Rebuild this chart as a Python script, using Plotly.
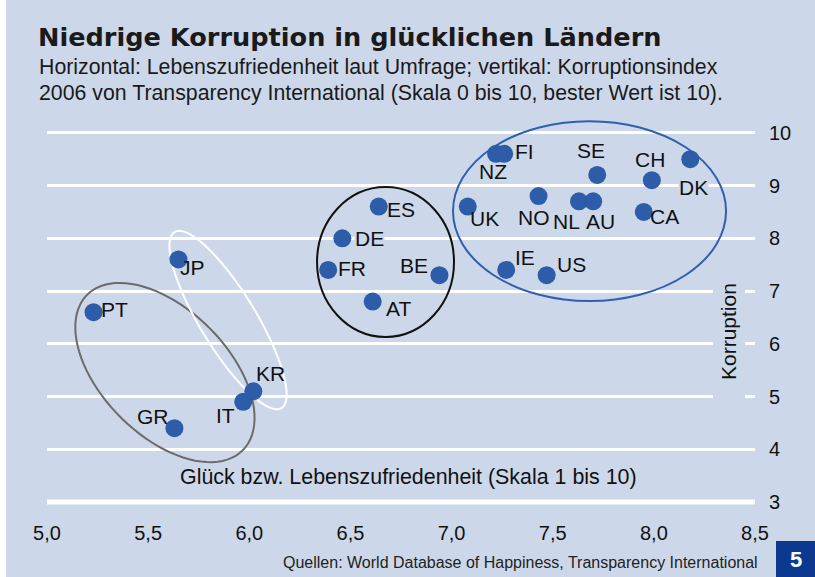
import numpy as np
import plotly.graph_objects as go

# Werte
countries = ['PT', 'JP', 'GR', 'IT', 'KR', 'ES', 'DE', 'FR', 'BE', 'AT',
             'UK', 'NZ', 'FI', 'NO', 'NL', 'AU', 'SE', 'CH', 'CA', 'DK', 'IE', 'US']
happiness = [5.23, 5.65, 5.63, 5.97, 6.02, 6.64, 6.46, 6.39, 6.94, 6.61,
             7.08, 7.22, 7.26, 7.43, 7.63, 7.70, 7.72, 7.99, 7.95, 8.18, 7.27, 7.47]
corruption = [6.6, 7.6, 4.4, 4.9, 5.1, 8.6, 8.0, 7.4, 7.3, 6.8,
              8.6, 9.6, 9.6, 8.8, 8.7, 8.7, 9.2, 9.1, 8.5, 9.5, 7.4, 7.3]

x_ticks = [5.0, 5.5, 6.0, 6.5, 7.0, 7.5, 8.0, 8.5]
x_ticktext = ['5,0', '5,5', '6,0', '6,5', '7,0', '7,5', '8,0', '8,5']
y_ticks = [3, 4, 5, 6, 7, 8, 9, 10]

title = 'Niedrige Korruption in glücklichen Ländern'
subtitle1 = 'Horizontal: Lebenszufriedenheit laut Umfrage; vertikal: Korruptionsindex'
subtitle2 = '2006 von Transparency International (Skala 0 bis 10, bester Wert ist 10).'
x_title = 'Glück bzw. Lebenszufriedenheit (Skala 1 bis 10)'
y_title = 'Korruption'
source = 'Quellen: World Database of Happiness, Transparency International'

# label offsets in pixels (dx right, dy down)
LABEL_OFFSETS = {
    'PT': (21, -3), 'JP': (14, 8), 'GR': (-21, -12), 'IT': (-18, 14), 'KR': (17, -18),
    'ES': (22, 3), 'DE': (27, 0), 'FR': (24, -1), 'BE': (-25, -10), 'AT': (26, 7),
    'UK': (17, 12), 'NZ': (-3, 18), 'FI': (20, -2), 'NO': (-5, 21), 'NL': (-13, 20),
    'AU': (7, 20), 'SE': (-6, -24), 'CH': (-2, -21), 'CA': (21, 5), 'DK': (3, 28),
    'IE': (19, -12), 'US': (25, -11),
}
LABEL_BG = {'DE', 'DK'}

BG = '#ccd8ea'
DOT = '#2d5ca8'
W, H = 815, 577
ML, MR, MT, MB = 47, 60, 109, 67
X_RANGE = [5.0, 8.5]
Y_RANGE = [2.85, 10.45]
PW, PH = W - ML - MR, H - MT - MB
SX = PW / (X_RANGE[1] - X_RANGE[0])
SY = PH / (Y_RANGE[1] - Y_RANGE[0])
FONT = 'Liberation Sans, Arial, sans-serif'


def fx(px):
    return (px - ML) / PW


def fy(py):
    return (H - MB - py) / PH


def ellipse_path(cx, cy, a, b, angle):
    # a, b in pixels, angle in screen degrees (clockwise)
    t = np.linspace(0, 2 * np.pi, 90)
    th = np.radians(angle)
    xs = cx + (a * np.cos(t) * np.cos(th) - b * np.sin(t) * np.sin(th)) / SX
    ys = cy - (a * np.cos(t) * np.sin(th) + b * np.sin(t) * np.cos(th)) / SY
    pts = ['%.4f,%.4f' % (x, y) for x, y in zip(xs, ys)]
    return 'M' + ' L'.join(pts) + ' Z'


fig = go.Figure()
fig.add_trace(go.Scatter(
    x=happiness, y=corruption, mode='markers',
    marker=dict(size=18, color=DOT, line=dict(width=0)),
    text=countries, hoverinfo='text', showlegend=False,
))

shapes = [
    # thicker base line at 3
    dict(type='line', xref='x', yref='y', x0=X_RANGE[0], x1=X_RANGE[1], y0=3, y1=3,
         line=dict(color='white', width=5), layer='between'),
    dict(type='path', xref='x', yref='y', path=ellipse_path(5.583, 5.455, 110, 63, 45),
         line=dict(color='#6b6b6b', width=2), layer='between'),
    dict(type='path', xref='x', yref='y', path=ellipse_path(5.895, 6.45, 103, 28, 58.7),
         line=dict(color='white', width=2), layer='between'),
    dict(type='circle', xref='x', yref='y', x0=6.335, x1=7.012, y0=6.13, y1=8.97,
         line=dict(color='#111111', width=2), layer='between'),
    dict(type='circle', xref='x', yref='y', x0=7.007, x1=8.357, y0=6.81, y1=10.22,
         line=dict(color='#2f5fae', width=2), layer='between'),
    # gap behind y title
    dict(type='rect', xref='paper', yref='paper', x0=fx(713), x1=fx(745), y0=fy(410), y1=fy(280),
         fillcolor=BG, line=dict(width=0), layer='above'),
    # left white strip
    dict(type='rect', xref='paper', yref='paper', x0=fx(-5), x1=fx(6), y0=fy(585), y1=fy(-5),
         fillcolor='white', line=dict(width=0), layer='above'),
    # page badge
    dict(type='rect', xref='paper', yref='paper', x0=fx(776), x1=fx(820), y0=fy(582), y1=fy(541),
         fillcolor='#0b3990', line=dict(width=0), layer='above'),
]

annotations = []
for c, xv, yv in zip(countries, happiness, corruption):
    dx, dy = LABEL_OFFSETS[c]
    annotations.append(dict(
        x=xv, y=yv, xref='x', yref='y', text=c, showarrow=False,
        xshift=dx, yshift=-dy, xanchor='center', yanchor='middle',
        font=dict(family=FONT, size=21, color='#111111'),
        bgcolor=BG if c in LABEL_BG else None, borderpad=0,
    ))

annotations += [
    dict(x=fx(36), y=fy(37), xref='paper', yref='paper', text='<b>' + title + '</b>',
         showarrow=False, xanchor='left', yanchor='middle',
         font=dict(family='DejaVu Sans, sans-serif', size=25.6, color='#1a1a1a')),
    dict(x=fx(37), y=fy(67), xref='paper', yref='paper', text=subtitle1,
         showarrow=False, xanchor='left', yanchor='middle',
         font=dict(family=FONT, size=21.3, color='#1a1a1a')),
    dict(x=fx(37), y=fy(93), xref='paper', yref='paper', text=subtitle2,
         showarrow=False, xanchor='left', yanchor='middle',
         font=dict(family=FONT, size=21.3, color='#1a1a1a')),
    dict(x=fx(408), y=fy(477), xref='paper', yref='paper', text=x_title,
         showarrow=False, xanchor='center', yanchor='middle',
         font=dict(family=FONT, size=21.4, color='#111111')),
    dict(x=fx(728), y=fy(332), xref='paper', yref='paper', text=y_title, textangle=-90,
         showarrow=False, xanchor='center', yanchor='middle',
         font=dict(family=FONT, size=21, color='#111111')),
    dict(x=fx(760), y=fy(562), xref='paper', yref='paper', text=source,
         showarrow=False, xanchor='right', yanchor='middle',
         font=dict(family=FONT, size=16, color='#222222')),
    dict(x=fx(795.5), y=fy(559), xref='paper', yref='paper', text='<b>5</b>',
         showarrow=False, xanchor='center', yanchor='middle',
         font=dict(family=FONT, size=22, color='white')),
]

fig.update_layout(
    width=W, height=H,
    margin=dict(l=ML, r=MR, t=MT, b=MB, pad=0),
    paper_bgcolor=BG,
    plot_bgcolor=BG,
    font=dict(family=FONT, size=20, color='#111111'),
    showlegend=False,
    shapes=shapes,
    annotations=annotations,
    xaxis=dict(
        range=X_RANGE, tickvals=x_ticks, ticktext=x_ticktext,
        showgrid=False, zeroline=False, showline=False,
        ticks='outside', ticklen=5, tickcolor='rgba(0,0,0,0)',
        tickfont=dict(size=20, color='#111111'),
    ),
    yaxis=dict(
        range=Y_RANGE, tickvals=y_ticks, side='right',
        showgrid=True, gridcolor='white', gridwidth=3,
        zeroline=False, showline=False,
        ticks='outside', ticklen=9, tickcolor='rgba(0,0,0,0)',
        tickfont=dict(size=20, color='#111111'),
    ),
)

# the page body has a default margin; remove it so the figure fills the window
fig.write_html("out.html", config={'displayModeBar': False},
               post_script="document.body.style.margin='0px';")
